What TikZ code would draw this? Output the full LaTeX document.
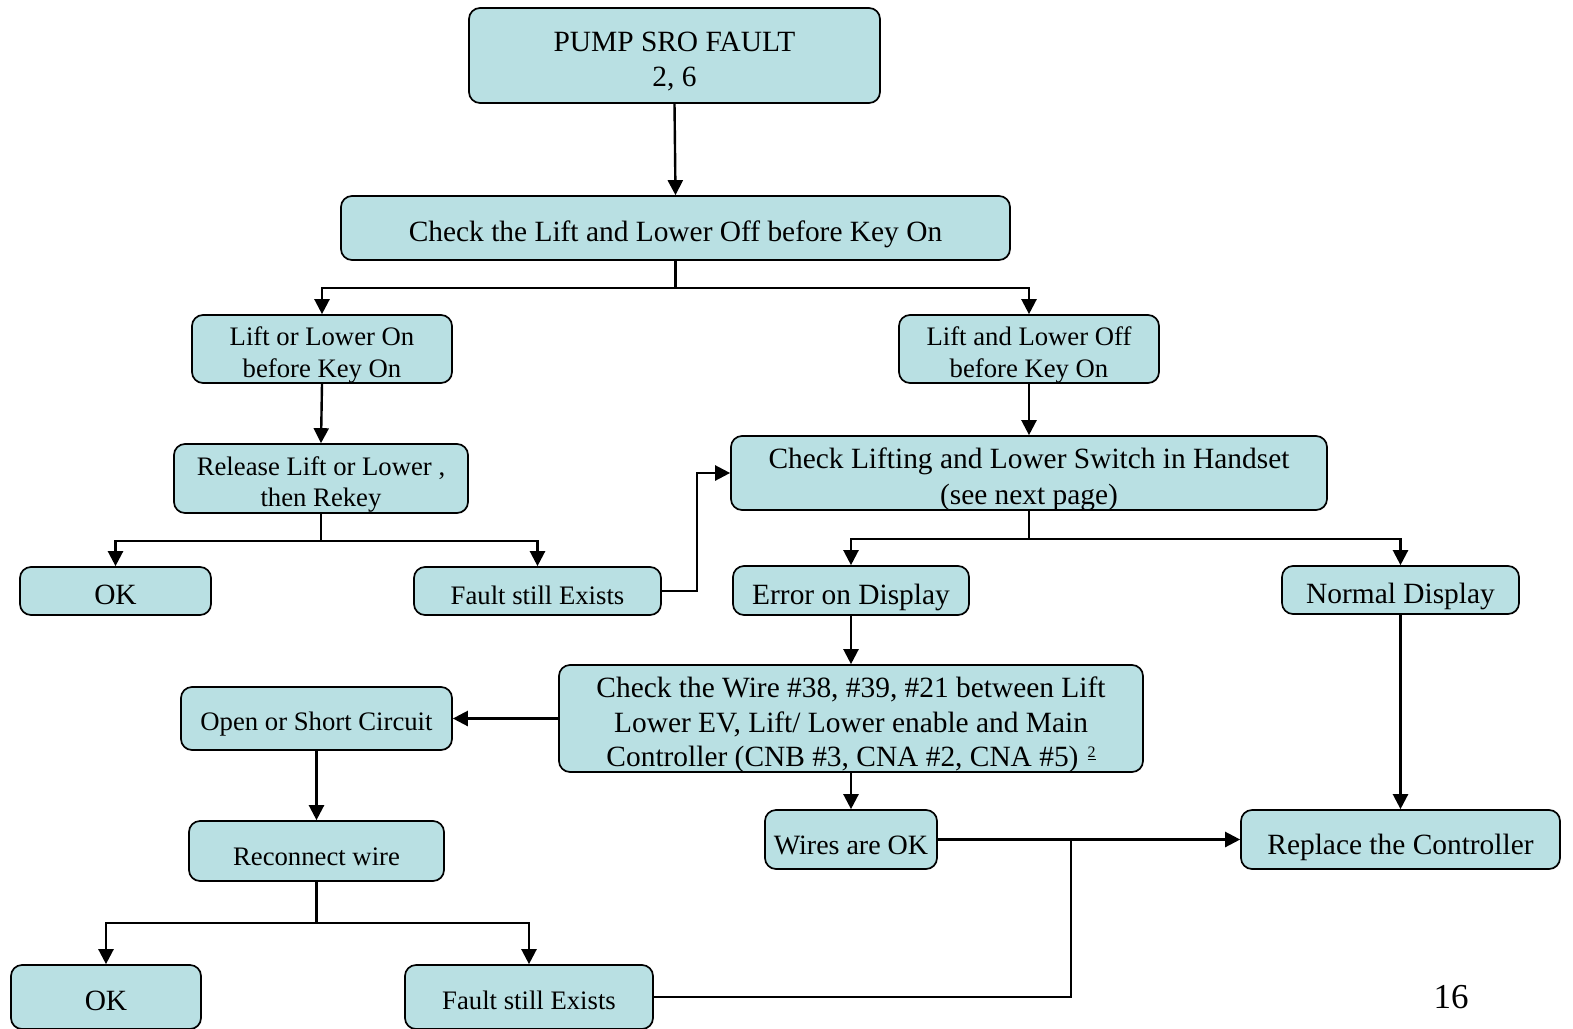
\documentclass[tikz,border=0pt]{standalone}
\usepackage{fontspec}
\setmainfont{Liberation Serif}
\usetikzlibrary{arrows.meta}
\definecolor{boxfill}{RGB}{185,224,227}
% strut that sets how far a one-line label sits below the box centre
\def\strutht{1.1em}
% centred stack of lines, lowered a little, taking no room of its own
\newcommand{\lines}[1]{\raisebox{\dimexpr-0.25em-5.5pt\relax}[0pt][0pt]{\begin{tabular}{@{}c@{}}#1\end{tabular}}}
% small underlined note mark
\newcommand{\notemark}[1]{\hspace{9pt}\raisebox{9pt}{\fontsize{16}{16}\selectfont\underline{#1}}}
\tikzset{
  box/.style={draw=black, line width=1.7pt, rounded corners=11pt, fill=boxfill,
    align=center, inner sep=0pt, execute at begin node={\rule{0pt}{\strutht}}},
  sh/.code={\def\strutht{#1}},
  multi/.style={sh=0pt},
  big/.style={font=\fontsize{29.4}{34.5}\selectfont},
  small/.style={font=\fontsize{26.7}{32}\selectfont},
  link/.style={line width=2.4pt},
  arr/.style={link, -{Triangle[length=15pt,width=15pt]}}
}
\begin{document}
\begin{tikzpicture}[x=1pt,y=-1pt]
\useasboundingbox (0,0) rectangle (1573,1028);
\clip (0,0) rectangle (1573,1028);

% boxes (centre, size)
\node[box,big,multi,minimum width=411,minimum height=95] (top) at (674.5,55.5) {\lines{PUMP SRO FAULT\\2, 6}};
\node[box,big,minimum width=669,minimum height=64] (check) at (675.5,228) {Check the Lift and Lower Off before Key On};
\node[box,small,multi,minimum width=260,minimum height=68] (liftOn) at (322,349) {\lines{Lift or Lower On\\before Key On}};
\node[box,small,multi,minimum width=260,minimum height=68] (liftOff) at (1029,349) {\lines{Lift and Lower Off\\before Key On}};
\node[box,small,multi,font=\fontsize{26.7}{31}\selectfont,minimum width=294,minimum height=69] (release) at (321,478.5) {\lines{Release Lift or Lower ,\\then Rekey}};
\node[box,big,multi,minimum width=596,minimum height=74,font=\fontsize{29.4}{36}\selectfont] (switch) at (1029,473) {\lines{Check Lifting and Lower Switch in Handset\\(see next page)}};
\node[box,big,sh=0.9em,minimum width=191,minimum height=48] (ok1) at (115.5,591) {OK};
\node[box,small,sh=1.02em,minimum width=247,minimum height=48] (fault1) at (537.5,591) {Fault still Exists};
\node[box,big,sh=1.2em,minimum width=236,minimum height=49] (error) at (851,590.5) {Error on Display};
\node[box,big,minimum width=237,minimum height=48] (normal) at (1400.5,590) {Normal Display};
\node[box,big,multi,minimum width=584,minimum height=107] (wire) at (851,718.5)
  {\lines{Check the Wire \#38, \#39, \#21 between Lift\\Lower EV, Lift/ Lower enable and Main\\Controller (CNB \#3, CNA \#2, CNA \#5)\notemark{2}}};
\node[box,small,minimum width=271,minimum height=63] (open) at (316.5,718.5) {Open or Short Circuit};
\node[box,small,minimum width=255,minimum height=60] (reconnect) at (316.5,851) {Reconnect wire};
\node[box,font=\fontsize{28}{32}\selectfont,minimum width=172,minimum height=59] (wiresok) at (851,839.5) {Wires are OK};
\node[box,big,sh=1.25em,minimum width=319,minimum height=59] (replace) at (1400.5,839.5) {Replace the Controller};
\node[box,big,sh=0.9em,minimum width=190,minimum height=64] (ok2) at (106,997) {OK};
\node[box,small,sh=0.92em,minimum width=248,minimum height=64] (fault2) at (529,997) {Fault still Exists};
\node[font=\fontsize{35}{35}\selectfont] (page) at (1451,997) {16};

% connectors
\draw[arr] (top.south) -- (check.north);
\draw[link] (check.south) -- ++(0,27) coordinate (j1);
\draw[arr] (j1) -| (liftOn.north);
\draw[arr] (j1) -| (liftOff.north);
\draw[arr] (liftOn.south) -- (release.north);
\draw[arr] (liftOff.south) -- (switch.north);
\draw[link] (release.south) -- ++(0,27) coordinate (j2);
\draw[arr] (j2) -| (ok1.north);
\draw[arr] (j2) -| (fault1.north);
\draw[arr] (fault1.east) -- ++(35,0) |- (switch.west);
\draw[link] (switch.south) -- ++(0,28) coordinate (j3);
\draw[arr] (j3) -| (error.north);
\draw[arr] (j3) -| (normal.north);
\draw[arr] (error.south) -- (wire.north);
\draw[arr] (wire.west) -- (open.east);
\draw[arr] (wire.south) -- (wiresok.north);
\draw[arr] (normal.south) -- (replace.north);
\draw[arr] (open.south) -- (reconnect.north);
\draw[arr] (wiresok.east) -- (replace.west);
\draw[link] (reconnect.south) -- ++(0,41) coordinate (j4);
\draw[arr] (j4) -| (ok2.north);
\draw[arr] (j4) -| (fault2.north);
\coordinate (j5) at (1071,839.5);
\draw[link] (fault2.east) -| (j5);
\end{tikzpicture}
\end{document}
